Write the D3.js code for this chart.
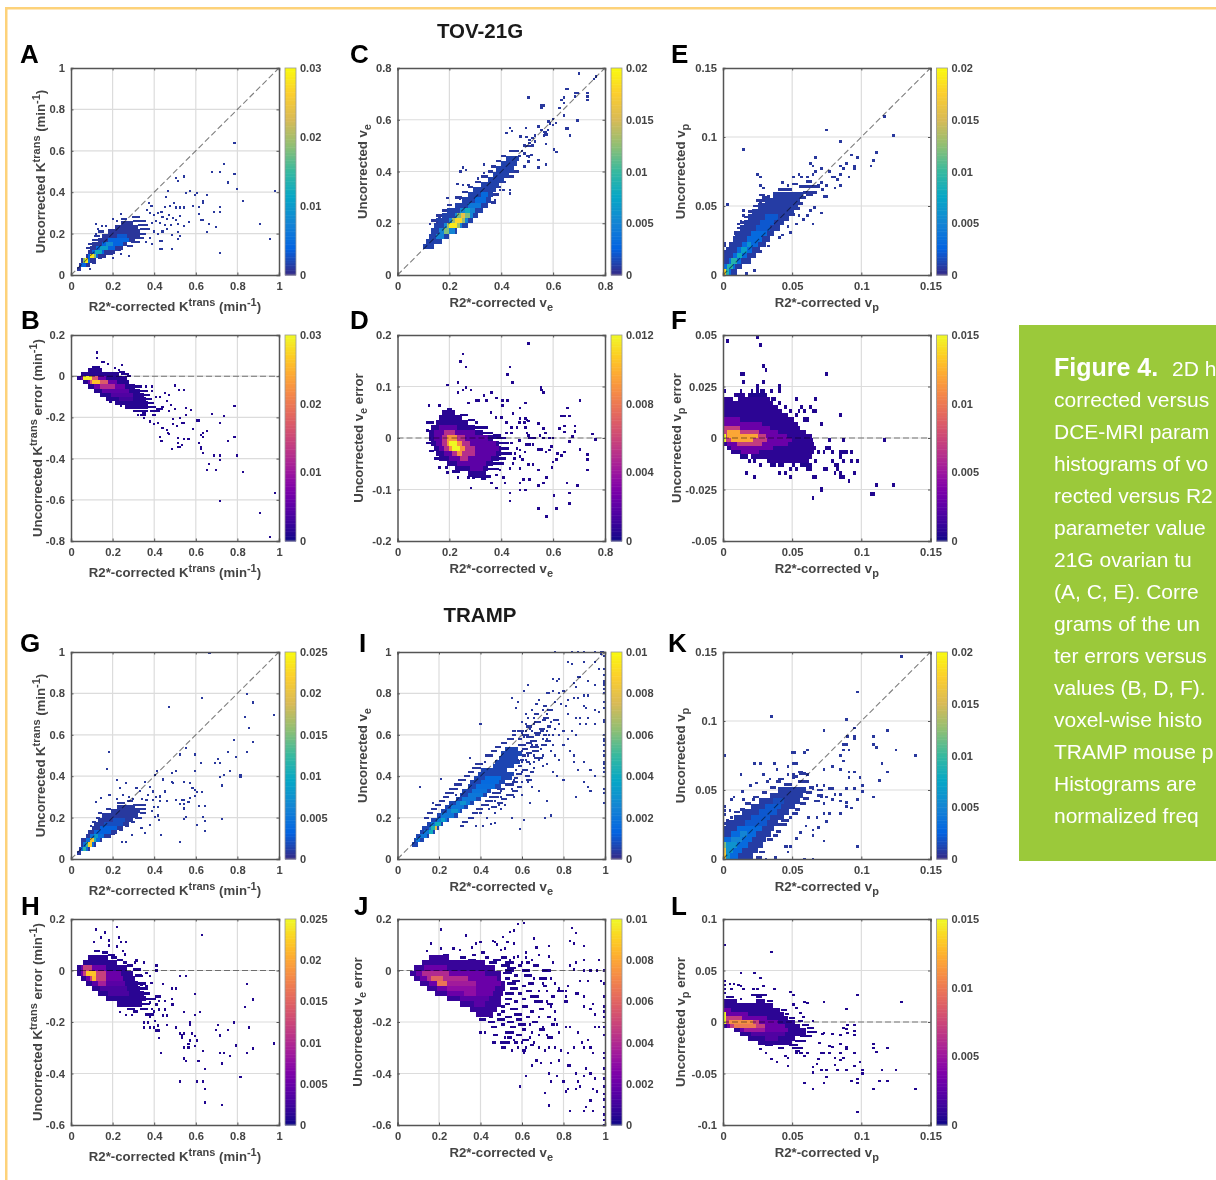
<!DOCTYPE html>
<html>
<head>
<meta charset="utf-8">
<script src="https://cdn.jsdelivr.net/npm/d3@7"></script>
<style>
html, body { margin: 0; padding: 0; background: #fff; overflow: hidden; }
svg { display: block; filter: blur(0.4px); }
text { font-family: "Liberation Sans", sans-serif; }
</style>
</head>
<body>
<svg id="drawing_region" width="1216" height="1180"></svg>
<script>
// rows: [y, x0, x1, value] runs of histogram cells, frags: [y, x0, x1] thin low count runs, dots: [x, y] single low count cells
const kticks = [0, 0.2, 0.4, 0.6, 0.8, 1];
const veticks = [0, 0.2, 0.4, 0.6, 0.8];
const vpticks = [0, 0.05, 0.1, 0.15];
const aRows = [[.03,.03,.05,.0008],[.05,.04,.09,.0008],[.07,.05,.12,.0008],[.09,.07,.17,.0008],[.11,.08,.21,.0008],[.13,.09,.25,.0008],[.15,.10,.27,.0008],[.17,.13,.31,.0008],[.19,.15,.33,.0008],[.21,.18,.33,.0008],[.23,.21,.32,.0008],[.25,.24,.30,.0008],
  [.05,.05,.07,.004],[.07,.06,.09,.004],[.09,.08,.13,.004],[.11,.10,.16,.004],[.13,.12,.21,.004],[.15,.15,.25,.004],[.17,.18,.28,.004],[.19,.22,.27,.003],
  [.07,.06,.08,.018],[.09,.09,.12,.018],[.11,.115,.15,.012],[.13,.14,.18,.010],[.15,.17,.20,.008],[.07,.065,.08,.029],[.09,.09,.11,.028]];
const aFrags = [[.27,.24,.27],[.28,.30,.33],[.26,.30,.36],[.24,.32,.37],[.22,.33,.38],[.20,.33,.36],[.18,.31,.35],[.16,.29,.33],[.14,.27,.30],[.12,.21,.24],[.10,.17,.20],[.08,.13,.15],[.21,.13,.16],[.19,.11,.14],[.17,.10,.13],[.15,.08,.10],[.13,.07,.09],[.06,.10,.12]];
const aDots = [[.786,.637],[.736,.537],[.676,.497],[.717,.497],[.786,.487],[.757,.447],[.798,.416],[.979,.406],[.827,.356],[.506,.468],[.515,.456],[.545,.476],[.466,.406],[.455,.376],[.555,.398],[.574,.406],[.595,.387],[.607,.398],[.655,.387],[.636,.356],[.636,.347],[.717,.327],[.717,.306],[.686,.306],[.617,.327],[.617,.295],[.626,.266],[.636,.266],[.665,.247],[.696,.234],[.655,.206],[.908,.247],[.956,.176],[.717,.105],[.515,.206],[.524,.189],[.515,.176],[.485,.195],[.426,.126],[.435,.126],[.485,.126],[.426,.166],[.435,.166],[.566,.256],[.545,.237],[.515,.247],[.506,.266],[.49,.276],[.524,.285],[.505,.326],[.524,.326],[.545,.326],[.586,.335],[.495,.347],[.474,.335],[.453,.327],[.435,.306],[.377,.347],[.387,.335],[.366,.315],[.38,.30],[.40,.29],[.42,.30],[.44,.28],[.46,.27],[.47,.29],[.43,.25],[.45,.24],[.41,.26],[.39,.25],[.48,.24],[.46,.22],[.44,.21],[.42,.20],[.40,.21],[.38,.18],[.39,.15],[.36,.16],[.12,.245],[.13,.22],[.15,.235],[.17,.235],[.12,.20],[.24,.295],[.22,.26],[.20,.27],[.30,.28],[.28,.09],[.24,.10],[.20,.08],[.09,.03]];
const bRows = [[.03,.08,.15,.0012],[.01,.05,.23,.0012],[-.01,.03,.27,.0012],[-.03,.06,.28,.0012],[-.05,.08,.31,.0012],[-.07,.11,.33,.0012],[-.09,.14,.35,.0012],[-.11,.17,.36,.0012],[-.13,.21,.37,.0012],[-.15,.26,.37,.0012],
  [-.01,.05,.17,.006],[-.03,.08,.22,.006],[-.05,.11,.26,.006],[-.07,.15,.28,.005],[-.09,.19,.30,.004],[-.11,.23,.30,.003],
  [-.01,.06,.13,.017],[-.03,.09,.18,.017],[-.05,.14,.21,.012],[-.01,.06,.10,.029],[-.03,.10,.14,.026]];
const bFrags = [[.045,.10,.14],[.02,.23,.26],[.01,.24,.28],[0,.27,.29],[-.05,.31,.34],[-.07,.33,.37],[-.09,.35,.38],[-.11,.36,.39],[-.13,.37,.40],[-.15,.37,.41],[-.17,.30,.37],[-.17,.38,.43],[-.18,.34,.36],[-.19,.33,.36],[-.19,.39,.41],[-.16,.41,.44]];
const bDots = [[.125,.115],[.125,.09],[.15,.07],[.16,.07],[.18,.06],[.245,.055],[.21,.04],[.23,.03],[.27,.01],[.28,.0],[.36,-.05],[.39,-.05],[.39,-.07],[.41,-.10],[.43,-.10],[.45,-.08],[.47,-.09],[.50,-.045],[.52,-.065],[.545,-.065],[.46,-.12],[.48,-.14],[.50,-.16],[.44,-.15],[.47,-.17],[.49,-.21],[.49,-.23],[.51,-.24],[.46,-.26],[.47,-.28],[.44,-.25],[.42,-.225],[.40,-.23],[.38,-.22],[.43,-.295],[.435,-.315],[.465,-.275],[.515,-.30],[.485,-.355],[.515,-.325],[.525,-.345],[.515,-.345],[.535,-.335],[.545,-.305],[.565,-.305],[.555,-.155],[.575,-.165],[.545,-.225],[.525,-.205],[.555,-.19],[.535,-.225],[.585,-.255],[.605,-.215],[.615,-.215],[.625,-.285],[.635,-.275],[.655,-.265],[.635,-.295],[.615,-.325],[.625,-.345],[.625,-.355],[.635,-.375],[.676,-.185],[.736,-.195],[.786,-.145],[.717,-.225],[.757,-.315],[.786,-.295],[.798,-.385],[.686,-.385],[.717,-.385],[.717,-.405],[.665,-.425],[.655,-.455],[.696,-.455],[.827,-.465],[.717,-.605],[.979,-.565],[.908,-.665],[.956,-.78],[.09,-.05],[.19,-.125],[.24,-.145],[.32,-.19],[.35,-.205]];
const cRows = [[.11,.10,.14,.001],[.13,.11,.17,.001],[.15,.12,.20,.001],[.17,.13,.23,.001],[.19,.14,.27,.001],[.21,.15,.29,.001],[.23,.17,.31,.001],[.25,.19,.33,.001],[.27,.22,.35,.001],[.29,.25,.36,.001],[.31,.27,.37,.001],[.33,.29,.38,.001],[.35,.32,.39,.001],[.37,.35,.41,.001],[.39,.37,.43,.001],[.41,.38,.45,.001],[.43,.40,.46,.001],[.45,.42,.47,.001],
  [.15,.15,.18,.005],[.17,.16,.22,.005],[.19,.18,.25,.005],[.21,.20,.27,.005],[.23,.22,.29,.005],[.25,.24,.30,.005],[.27,.27,.32,.004],[.29,.30,.34,.003],[.31,.32,.35,.003],
  [.17,.18,.20,.012],[.19,.19,.24,.013],[.21,.21,.26,.013],[.23,.23,.28,.012],[.25,.26,.28,.008],[.19,.20,.23,.019],[.21,.22,.25,.018],[.23,.245,.26,.016]];
const cFrags = [[.25,.17,.19],[.23,.15,.17],[.21,.13,.15],[.27,.19,.21],[.30,.22,.25],[.32,.25,.27],[.34,.27,.29],[.36,.30,.32],[.38,.32,.35],[.40,.35,.37],[.42,.36,.38],[.44,.38,.40],[.46,.40,.42],[.48,.43,.47],[.40,.43,.47],[.38,.41,.45],[.36,.39,.42],[.34,.38,.40],[.31,.37,.39],[.28,.36,.38]];
const cDots = [[.70,.778],[.757,.757],[.765,.768],[.504,.686],[.658,.719],[.65,.719],[.684,.703],[.693,.703],[.733,.703],[.733,.69],[.733,.677],[.684,.69],[.642,.686],[.632,.677],[.642,.665],[.556,.654],[.563,.654],[.556,.645],[.624,.645],[.642,.616],[.693,.597],[.6,.603],[.588,.585],[.611,.587],[.658,.567],[.65,.567],[.665,.538],[.433,.568],[.442,.556],[.42,.548],[.495,.568],[.543,.574],[.556,.561],[.565,.552],[.575,.542],[.497,.533],[.475,.535],[.51,.522],[.498,.499],[.51,.499],[.53,.516],[.573,.507],[.603,.486],[.614,.476],[.517,.464],[.507,.458],[.504,.439],[.543,.445],[.573,.426],[.543,.415],[.49,.42],[.253,.415],[.264,.406],[.243,.4],[.334,.426],[.334,.394],[.311,.374],[.273,.348],[.253,.348],[.232,.351],[.193,.297],[.433,.329],[.433,.316],[.376,.29],[.408,.329],[.395,.329],[.163,.226],[.153,.204],[.125,.197],[.241,.293],[.582,.593],[.52,.53],[.53,.54],[.51,.51],[.52,.50],[.57,.55],[.58,.56],[.565,.54],[.60,.58],[.49,.50],[.48,.48],[.47,.46],[.49,.47],[.50,.46]];
const dRows = [[.05,.17,.22,.0006],[.04,.16,.25,.0006],[.03,.15,.27,.0006],[.02,.13,.30,.0006],[.01,.12,.33,.0006],[0,.12,.37,.0006],[-.01,.13,.39,.0006],[-.02,.14,.40,.0006],[-.03,.15,.40,.0006],[-.04,.16,.39,.0006],[-.05,.19,.37,.0006],[-.06,.22,.35,.0006],[-.07,.27,.34,.0006],
  [.02,.16,.23,.002],[.01,.14,.30,.002],[0,.14,.35,.002],[-.01,.15,.38,.002],[-.02,.16,.39,.002],[-.03,.18,.38,.002],[-.04,.20,.36,.002],[-.05,.23,.34,.002],[-.06,.28,.33,.002],
  [.01,.18,.22,.005],[0,.17,.26,.005],[-.01,.17,.28,.005],[-.02,.18,.30,.005],[-.03,.21,.30,.005],[-.04,.24,.27,.005],
  [0,.19,.23,.009],[-.01,.19,.25,.009],[-.02,.20,.26,.009],[-.03,.23,.25,.009],[-.01,.20,.23,.012],[-.02,.21,.24,.012]];
const dFrags = [[.055,.19,.21],[.045,.24,.27],[.035,.27,.30],[.03,.30,.31],[.02,.30,.35],[.01,.33,.37],[.005,.37,.40],[0,.37,.42],[-.01,.39,.43],[-.02,.40,.43],[-.03,.40,.44],[-.04,.39,.42],[-.05,.37,.41],[-.06,.35,.39],[-.065,.21,.24],[-.075,.29,.36],[-.08,.32,.34],[.03,.11,.14],[.015,.11,.12],[-.01,.11,.13],[-.025,.12,.14],[-.04,.14,.16]];
const dDots = [[.504,.183],[.253,.163],[.243,.148],[.264,.138],[.433,.138],[.424,.123],[.444,.108],[.193,.103],[.233,.108],[.264,.098],[.253,.093],[.233,.088],[.283,.093],[.553,.098],[.556,.093],[.563,.088],[.363,.088],[.334,.083],[.382,.078],[.302,.073],[.312,.073],[.343,.073],[.404,.073],[.424,.073],[.703,.073],[.494,.068],[.274,.068],[.404,.063],[.473,.058],[.655,.058],[.122,.063],[.163,.063],[.446,.048],[.633,.043],[.643,.043],[.662,.043],[.473,.038],[.494,.038],[.504,.033],[.543,.028],[.563,.018],[.624,.018],[.643,.023],[.684,.023],[.684,.013],[.643,.012],[.751,.008],[.763,-.003],[.494,.02],[.504,.005],[.6,0],[.585,0],[.563,0],[.675,.003],[.662,-.007],[.703,-.022],[.643,-.027],[.733,-.032],[.733,-.042],[.733,-.062],[.633,-.034],[.616,-.03],[.613,-.042],[.596,-.057],[.6,-.047],[.572,-.027],[.543,-.022],[.523,-.013],[.51,-.013],[.497,-.013],[.556,-.022],[.585,-.023],[.594,-.016],[.453,-.03],[.472,-.023],[.472,-.036],[.491,-.027],[.482,-.042],[.504,-.052],[.523,-.052],[.543,-.062],[.575,-.077],[.562,-.087],[.543,-.092],[.653,-.087],[.693,-.092],[.663,-.107],[.663,-.127],[.603,-.112],[.613,-.137],[.543,-.137],[.574,-.152],[.433,-.107],[.433,-.122],[.473,-.101],[.494,-.101],[.382,-.097],[.283,-.097],[.414,-.087],[.363,-.087],[.472,-.087],[.485,-.081],[.51,-.081],[.408,-.077],[.382,-.072],[.395,-.062],[.433,-.059],[.446,-.049],[.472,-.059],[.163,-.057],[.193,-.067],[.233,-.077],[.273,-.077],[.292,-.077],[.189,-.057],[.36,.05],[.38,.04],[.40,.04],[.42,.03],[.44,.02],[.46,.02],[.42,.01],[.44,.01],[.47,.03],[.49,.03],[.50,.035],[.50,.01],[.51,0],[.52,0],[.53,0],[.55,.005],[.57,.01],[.44,-.01],[.46,-.02],[.45,-.04],[.47,-.005]];
const eRows = [[.002,0,.01,.0008],[.006,0,.014,.0008],[.010,0,.02,.0008],[.014,0,.024,.0008],[.018,.002,.027,.0008],[.022,.004,.031,.0008],[.026,.007,.034,.0008],[.030,.009,.037,.0008],[.034,.012,.041,.0008],[.038,.015,.044,.0008],[.042,.018,.048,.0008],[.046,.021,.051,.0008],[.050,.025,.054,.0008],[.054,.030,.056,.0008],[.058,.036,.058,.0008],
  [.002,0,.006,.003],[.006,.001,.009,.003],[.010,.004,.013,.003],[.014,.007,.017,.003],[.018,.010,.021,.003],[.022,.014,.025,.003],[.026,.017,.028,.003],[.030,.02,.032,.003],[.034,.024,.034,.002],[.038,.027,.037,.002],[.042,.03,.04,.002],
  [.002,0,.004,.009],[.006,.003,.007,.009],[.010,.006,.010,.009],[.014,.010,.014,.008],[.018,.013,.017,.007],[.022,.017,.020,.006],[.002,0,.002,.018]];
const eFrags = [[.023,0,.002],[.021,0,.002],[.017,0,.002],[.062,.040,.05],[.064,.055,.07],[.060,.058,.068],[.058,.06,.065],[.066,.05,.054],[.068,.06,.064],[.056,.056,.06],[.052,.054,.058],[.048,.051,.056],[.044,.048,.052],[.040,.044,.048],[.058,.026,.03],[.056,.028,.032],[.054,.024,.03],[.050,.022,.025],[.046,.018,.021],[.042,.015,.018],[.038,.012,.015],[.034,.010,.012],[.030,.008,.009]];
const eDots = [[.075,.105],[.085,.097],[.117,.115],[.123,.101],[.015,.091],[.003,.051],[.111,.089],[.109,.083],[.107,.079],[.097,.085],[.093,.087],[.067,.085],[.063,.081],[.065,.079],[.025,.073],[.027,.071],[.065,.037],[.071,.045],[.049,.031],[.023,.003],[.017,.001],[.095,.079],[.095,.077],[.091,.071],[.089,.081],[.085,.079],[.087,.077],[.085,.073],[.077,.075],[.079,.071],[.081,.071],[.083,.069],[.081,.063],[.085,.065],[.075,.057],[.073,.057],[.072,.062],[.075,.065],[.071,.067],[.069,.065],[.055,.073],[.057,.071],[.061,.071],[.065,.073],[.067,.075],[.071,.077],[.051,.071],[.047,.065],[.043,.067],[.027,.065],[.029,.063],[.033,.057],[.027,.052],[.015,.047],[.015,.043],[.013,.039],[.011,.037],[.009,.031],[.005,.023],[.001,.021],[.063,.047],[.066,.049],[.061,.043],[.058,.04],[.055,.043],[.053,.037],[.047,.035],[.043,.029],[.041,.027],[.033,.021],[.027,.017]];
const fRows = [[.021,.008,.016,.0008],[.019,0,.007,.0008],[.019,.011,.034,.0008],[.017,0,.036,.0008],[.015,0,.040,.0008],[.013,0,.043,.0008],[.011,0,.047,.0008],[.009,0,.051,.0008],[.007,0,.054,.0008],[.005,0,.056,.0008],[.003,0,.060,.0008],[.001,0,.064,.0008],[-.001,0,.065,.0008],[-.003,.001,.066,.0008],[-.005,.003,.067,.0008],[-.007,.006,.066,.0008],[-.009,.02,.064,.0008],[-.011,.034,.062,.0008],
  [.009,0,.012,.003],[.007,0,.028,.003],[.005,0,.034,.003],[.003,0,.04,.003],[.001,0,.046,.003],[-.001,0,.05,.003],[-.003,.003,.047,.003],[-.005,.006,.036,.003],[-.007,.013,.026,.003],
  [.005,0,.012,.007],[.003,0,.026,.007],[.001,0,.031,.007],[-.001,.002,.032,.007],[-.003,.010,.028,.007],[.003,.003,.012,.012],[.001,.003,.025,.012],[-.001,.006,.022,.012],[.001,0,.002,.015],[-.001,0,.002,.015]];
const fFrags = [[.023,.024,.026],[.023,.012,.014],[.023,.027,.03],[.021,.019,.032],[.019,.035,.038],[.017,.040,.042],[.015,.044,.046],[.013,.048,.05],[.011,.052,.054],[-.009,.012,.018],[-.011,.018,.02],[-.011,.022,.024],[-.013,.034,.038],[-.013,.04,.044],[-.013,.05,.052],[-.013,.056,.064],[-.015,.06,.064]];
const fDots = [[.003,.047],[.025,.049],[.027,.045],[.029,.035],[.031,.033],[.013,.031],[.015,.031],[.075,.031],[.015,.027],[.029,.027],[.041,.025],[.001,.023],[.085,.011],[.117,-.001],[.087,-.001],[.077,-.001],[.067,.019],[.063,.015],[.053,.019],[.071,.007],[.067,.013],[.065,.013],[.093,-.007],[.097,-.011],[.093,-.011],[.095,-.017],[.091,-.021],[.123,-.023],[.111,-.023],[.107,-.027],[.109,-.027],[.071,-.025],[.065,-.029],[.017,-.017],[.023,-.019],[.049,-.019],[.041,-.017],[.045,-.017],[.065,-.019],[.067,-.019],[.087,-.019],[.085,-.019],[.085,-.017],[.081,-.017],[.081,-.013],[.079,-.007],[.075,-.005],[.077,-.005],[.073,-.007],[.085,-.007],[.087,-.007],[.085,-.009],[.089,-.007],[.073,-.015],[.075,-.015],[.067,-.011],[.069,-.007],[.059,.013],[.057,.015],[.055,.013],[.061,.009],[.059,.009],[.053,-.015],[.049,-.015],[.043,-.013],[.035,-.013],[.027,-.013],[.033,-.011],[.079,-.011],[.083,-.013],[.087,-.011],[.083,-.015],[.041,.023],[.035,.023],[.029,.023],[.025,.025],[.021,.023],[.011,.021],[.013,.023],[.019,.021]];
const gRows = [[.03,.03,.05,.0008],[.05,.04,.09,.0008],[.07,.05,.12,.0008],[.09,.05,.15,.0008],[.11,.07,.19,.0008],[.13,.08,.22,.0008],[.15,.10,.25,.0008],[.17,.11,.28,.0008],[.19,.13,.30,.0008],[.21,.15,.32,.0008],[.23,.19,.33,.0008],[.25,.22,.31,.0008],
  [.05,.05,.08,.004],[.07,.06,.11,.004],[.09,.07,.14,.004],[.11,.09,.16,.004],[.13,.11,.19,.003],[.15,.14,.22,.003],[.17,.16,.25,.002],[.19,.2,.26,.002],
  [.05,.06,.07,.012],[.07,.07,.10,.012],[.09,.09,.12,.011],[.11,.11,.13,.008],[.07,.08,.10,.022],[.09,.09,.11,.021]];
const gFrags = [[.27,.22,.26],[.28,.27,.30],[.26,.30,.36],[.24,.31,.36],[.22,.33,.36],[.20,.31,.34],[.18,.29,.31],[.16,.26,.28],[.14,.23,.25],[.12,.19,.21],[.22,.13,.15],[.20,.12,.14],[.24,.17,.19],[.18,.10,.12],[.16,.09,.10]];
const gDots = [[.666,.997],[.632,.776],[.473,.735],[.845,.797],[.874,.756],[.835,.685],[.976,.695],[.855,.635],[.785,.576],[.874,.565],[.755,.515],[.845,.515],[.182,.515],[.173,.434],[.795,.495],[.705,.485],[.715,.465],[.694,.465],[.626,.465],[.594,.505],[.553,.535],[.524,.505],[.765,.424],[.734,.405],[.715,.394],[.815,.405],[.815,.394],[.724,.355],[.594,.424],[.503,.424],[.484,.415],[.415,.424],[.403,.405],[.444,.384],[.484,.374],[.492,.365],[.544,.374],[.573,.365],[.584,.345],[.594,.334],[.605,.324],[.632,.324],[.594,.305],[.573,.294],[.565,.274],[.544,.284],[.534,.284],[.503,.284],[.526,.264],[.544,.264],[.544,.244],[.615,.255],[.644,.255],[.634,.205],[.644,.185],[.553,.205],[.544,.195],[.724,.195],[.605,.165],[.644,.134],[.524,.084],[.432,.115],[.355,.124],[.292,.115],[.265,.084],[.244,.084],[.221,.382],[.263,.366],[.234,.345],[.185,.31],[.145,.294],[.121,.276],[.355,.374],[.315,.342],[.379,.35],[.395,.326],[.427,.302],[.452,.326],[.419,.253],[.403,.205],[.424,.189],[.379,.165],[.339,.148],[.363,.285],[.395,.285],[.25,.31],[.22,.29],[.28,.30],[.33,.33],[.30,.29],[.34,.29],[.37,.31],[.41,.30],[.43,.28],[.46,.28],[.40,.25],[.42,.21],[.39,.23]];
const hRows = [[.05,.08,.18,.0012],[.03,.06,.22,.0012],[.01,.03,.27,.0012],[-.01,.03,.30,.0012],[-.03,.05,.31,.0012],[-.05,.07,.32,.0012],[-.07,.10,.33,.0012],[-.09,.13,.35,.0012],[-.11,.17,.36,.0012],[-.13,.22,.34,.0012],
  [.01,.05,.17,.005],[-.01,.05,.24,.005],[-.03,.07,.25,.005],[-.05,.10,.26,.004],[-.07,.14,.27,.003],[-.09,.18,.28,.003],
  [.01,.06,.10,.012],[-.01,.06,.17,.012],[-.03,.09,.17,.012],[-.05,.13,.17,.009],[-.01,.07,.12,.022],[-.03,.10,.12,.021]];
const hFrags = [[.075,.11,.14],[.07,.15,.18],[.06,.18,.21],[.05,.19,.22],[.04,.22,.25],[.02,.27,.30],[.03,.25,.27],[.005,.30,.33],[-.02,.31,.34],[-.05,.32,.36],[-.07,.33,.37],[-.09,.35,.38],[-.11,.36,.41],[-.13,.34,.38],[-.15,.27,.31],[-.15,.33,.37],[-.16,.30,.32],[-.17,.36,.40],[-.10,.41,.43]];
const hDots = [[.121,.159],[.221,.169],[.632,.138],[.163,.148],[.145,.128],[.184,.117],[.232,.128],[.242,.11],[.263,.11],[.111,.11],[.182,.097],[.223,.094],[.25,.075],[.258,.062],[.315,.039],[.352,.03],[.411,.019],[.411,0],[.442,-.052],[.484,-.071],[.503,-.071],[.524,-.022],[.553,-.022],[.594,-.092],[.845,-.052],[.874,-.112],[.835,-.141],[.621,-.161],[.544,-.161],[.594,-.172],[.785,-.203],[.705,-.212],[.573,-.203],[.573,-.212],[.855,-.222],[.695,-.231],[.753,-.231],[.715,-.252],[.503,-.222],[.463,-.212],[.532,-.252],[.524,-.244],[.544,-.244],[.532,-.261],[.582,-.244],[.594,-.254],[.605,-.272],[.573,-.272],[.565,-.285],[.544,-.3],[.565,-.3],[.594,-.293],[.634,-.312],[.715,-.321],[.734,-.321],[.765,-.332],[.795,-.292],[.874,-.302],[.845,-.321],[.976,-.283],[.432,-.321],[.544,-.341],[.553,-.351],[.613,-.352],[.724,-.361],[.644,-.383],[.815,-.413],[.524,-.432],[.605,-.432],[.634,-.432],[.644,-.461],[.644,-.512],[.724,-.523],[.424,-.262],[.411,-.232],[.424,-.232],[.42,-.213],[.4,-.222],[.379,-.222],[.352,-.222],[.352,-.203],[.37,-.203],[.403,-.196],[.444,-.174],[.46,-.174],[.424,-.151],[.452,-.151],[.411,-.132],[.484,-.132],[.492,-.132],[.484,-.11],[.452,-.119],[.424,-.119],[.379,-.125],[.263,-.172],[.292,-.172],[.237,-.161],[.339,-.022],[.363,-.009],[.33,.004],[.306,.03],[.379,-.022],[.387,-.048],[.363,-.06],[.339,-.054],[.41,-.10],[.43,-.10],[.40,-.16],[.38,-.18],[.39,-.15],[.36,-.17]];
const iRows = [[.07,.07,.10,.0006],[.09,.08,.13,.0006],[.11,.09,.15,.0006],[.13,.11,.18,.0006],[.15,.12,.20,.0006],[.17,.14,.22,.0006],[.19,.16,.25,.0006],[.21,.19,.29,.0006],[.23,.21,.31,.0006],[.25,.23,.34,.0006],[.27,.25,.37,.0006],[.29,.28,.40,.0006],[.31,.30,.43,.0006],[.33,.31,.45,.0006],[.35,.34,.50,.0006],[.37,.35,.52,.0006],[.39,.37,.55,.0006],[.41,.39,.56,.0006],[.43,.40,.53,.0006],[.45,.46,.56,.0006],[.47,.47,.59,.0006],[.49,.49,.58,.0006],[.51,.50,.60,.0006],[.53,.52,.58,.0006],
  [.09,.09,.11,.002],[.11,.11,.14,.002],[.13,.13,.17,.002],[.15,.15,.19,.002],[.17,.16,.21,.002],[.19,.19,.24,.002],[.21,.21,.27,.002],[.23,.24,.30,.002],[.25,.26,.32,.002],[.27,.28,.35,.002],[.29,.31,.38,.002],[.31,.34,.41,.002],[.33,.36,.43,.0018],[.35,.38,.47,.0016],[.37,.40,.49,.0015],[.39,.42,.50,.0015],
  [.13,.15,.17,.004],[.15,.16,.19,.0045],[.17,.18,.21,.004],[.19,.21,.23,.0035],[.23,.26,.29,.003],[.27,.30,.33,.003],[.15,.18,.19,.008]];
const iFrags = [[.60,.60,.63],[.62,.58,.61],[.64,.62,.65],[.58,.58,.60],[.59,.62,.66],[.61,.66,.69],[.63,.68,.71],[.60,.70,.72],[.57,.71,.74],[.55,.69,.72],[.53,.60,.63],[.52,.65,.68],[.50,.60,.62],[.49,.66,.70],[.47,.62,.64],[.45,.58,.60],[.43,.60,.63],[.41,.57,.60],[.39,.56,.58],[.37,.55,.58],[.36,.52,.56],[.34,.48,.52],[.32,.46,.50],[.30,.44,.49],[.28,.42,.46],[.26,.40,.44],[.24,.38,.41],[.22,.36,.39],[.20,.34,.37],[.18,.31,.34],[.16,.30,.32],[.25,.45,.48],[.27,.48,.51],[.29,.50,.53],[.31,.53,.56],[.33,.55,.58],[.35,.58,.60],[.40,.62,.64],[.42,.64,.66],[.38,.62,.65],[.66,.66,.69],[.68,.70,.73],[.70,.66,.68],[.64,.72,.74],[.67,.75,.78],[.72,.72,.75],[.74,.70,.72],[.50,.42,.46],[.52,.45,.48],[.54,.47,.50],[.56,.50,.53],[.58,.53,.56],[.60,.55,.57],[.62,.55,.57],[.46,.38,.41],[.44,.36,.40],[.42,.34,.37],[.40,.32,.35],[.38,.29,.33],[.36,.27,.31],[.34,.25,.29],[.32,.23,.27],[.30,.22,.25],[.28,.20,.23],[.26,.18,.21],[.24,.16,.19],[.22,.14,.17],[.20,.13,.15],[.55,.58,.62],[.56,.62,.65],[.54,.64,.68],[.57,.64,.67],[.51,.62,.65],[.48,.59,.61]];
const iDots = [[.76,1],[.84,1],[.87,1],[.90,1],[.95,1],[.98,.99],[.99,1],[.98,1],[.995,.27],[.995,.32],[.995,.34],[.995,.42],[.995,.44],[.995,.46],[.995,.47],[.995,.50],[.995,.52],[.995,.55],[.995,.57],[.995,.58],[.995,.60],[.995,.66],[.995,.67],[.995,.73],[.995,.76],[.995,.80],[.995,.82],[.995,.84],[.995,.85],[.995,.86],[.995,.89],[.995,.92],[.995,.98],[.82,.95],[.84,.94],[.90,.95],[.95,.95],[.97,.92],[.87,.88],[.88,.88],[.78,.87],[.92,.86],[.95,.84],[.85,.85],[.86,.83],[.75,.87],[.77,.86],[.63,.84],[.61,.81],[.55,.78],[.58,.76],[.57,.73],[.80,.81],[.78,.80],[.72,.80],[.73,.80],[.75,.81],[.85,.78],[.87,.78],[.82,.77],[.76,.76],[.90,.79],[.92,.79],[.68,.77],[.67,.75],[.79,.75],[.81,.74],[.90,.74],[.91,.73],[.95,.72],[.97,.71],[.65,.72],[.70,.72],[.72,.70],[.82,.70],[.86,.68],[.88,.68],[.92,.68],[.95,.65],[.62,.70],[.63,.68],[.66,.68],[.70,.67],[.74,.66],[.78,.65],[.80,.62],[.88,.65],[.91,.65],[.84,.62],[.86,.60],[.60,.66],[.62,.65],[.65,.62],[.68,.60],[.70,.62],[.72,.58],[.75,.55],[.80,.55],[.83,.52],[.85,.50],[.90,.47],[.93,.43],[.95,.40],[.92,.35],[.93,.33],[.90,.37],[.77,.40],[.80,.38],[.85,.47],[.87,.43],[.86,.30],[.75,.42],[.70,.45],[.66,.47],[.63,.50],[.60,.52],[.60,.42],[.62,.40],[.65,.35],[.68,.33],[.72,.28],[.64,.27],[.71,.20],[.74,.21],[.59,.145],[.55,.20],[.61,.19],[.11,.35],[.21,.385],[.33,.40],[.40,.65],[.28,.31],[.17,.27],[.18,.24],[.38,.46],[.42,.47],[.35,.49],[.45,.17],[.47,.175],[.41,.16],[.38,.16],[.43,.20],[.47,.22],[.50,.24],[.52,.26],[.56,.30],[.60,.31],[.55,.34],[.53,.31],[.62,.62],[.64,.63],[.66,.65],[.67,.60],[.69,.62],[.70,.58],[.72,.62],[.73,.60],[.75,.60],[.63,.56],[.65,.55],[.67,.55],[.69,.53],[.71,.55],[.74,.52],[.76,.50],[.78,.48],[.70,.50],[.66,.50],[.68,.48],[.72,.46],[.64,.46],[.66,.44],[.60,.47],[.62,.48],[.58,.48],[.57,.43],[.60,.37],[.63,.37],[.58,.35],[.56,.38],[.61,.59],[.63,.60],[.60,.61],[.58,.62],[.56,.60],[.65,.59],[.71,.67],[.73,.64],[.76,.63],[.78,.60],[.82,.58],[.50,.30],[.47,.28],[.49,.26],[.44,.24],[.40,.22],[.46,.32],[.50,.33]];
const jRows = [[.05,.15,.25,.0008],[.03,.12,.42,.0008],[.01,.08,.47,.0008],[-.01,.06,.50,.0008],[-.03,.08,.50,.0008],[-.05,.11,.52,.0008],[-.07,.14,.52,.0008],[-.09,.18,.51,.0008],[-.11,.24,.50,.0008],[-.13,.30,.50,.0008],[-.15,.35,.48,.0008],[-.17,.38,.46,.0008],
  [.01,.13,.24,.002],[-.01,.09,.42,.002],[-.03,.11,.48,.002],[-.05,.15,.50,.002],[-.07,.19,.47,.002],[-.09,.24,.46,.002],[-.11,.30,.44,.0016],[-.13,.37,.42,.0016],
  [-.01,.12,.25,.004],[-.03,.14,.34,.004],[-.05,.19,.38,.0035],[-.07,.24,.38,.003],[-.09,.32,.38,.003],[-.03,.16,.22,.006],[-.05,.19,.24,.0065]];
const jFrags = [[.02,.50,.54],[.02,.58,.60],[.01,.53,.57],[0,.52,.56],[0,.60,.64],[-.01,.51,.55],[-.02,.56,.58],[-.02,.61,.65],[-.03,.52,.54],[-.04,.55,.59],[-.05,.53,.57],[-.05,.63,.66],[-.06,.60,.62],[-.07,.54,.58],[-.08,.62,.65],[-.09,.52,.56],[-.09,.58,.60],[-.10,.64,.68],[-.11,.52,.55],[-.11,.60,.62],[-.12,.56,.58],[-.12,.66,.70],[-.13,.52,.54],[-.14,.60,.63],[-.14,.50,.52],[-.15,.54,.58],[-.15,.68,.70],[-.16,.64,.66],[-.16,.50,.52],[-.17,.48,.50],[-.17,.56,.60],[-.18,.52,.55],[-.18,.62,.64],[-.19,.48,.52],[-.19,.57,.60],[-.20,.44,.47],[-.20,.53,.56],[-.20,.65,.67],[-.21,.50,.52],[-.21,.58,.62],[-.22,.45,.48],[-.22,.54,.57],[-.23,.60,.62],[-.24,.52,.56],[-.25,.57,.60],[-.25,.46,.48],[-.26,.53,.55],[-.27,.60,.63],[-.28,.50,.54],[-.28,.56,.58],[-.29,.64,.66],[-.30,.50,.52],[-.31,.60,.62],[-.18,.44,.46],[-.19,.40,.42],[.03,.44,.48],[.04,.34,.38],[.05,.30,.33],[.06,.22,.25],[.04,.46,.50],[.06,.36,.38],[.07,.40,.42],[.05,.42,.44],[.03,.52,.56],[.05,.50,.53],[-.23,.68,.71],[-.26,.72,.75],[-.21,.74,.76],[-.18,.72,.74],[-.13,.72,.75],[-.10,.74,.76],[-.06,.70,.72],[-.03,.68,.72],[0,.70,.74],[.02,.66,.68],[.03,.62,.64],[-.08,.77,.80],[-.12,.80,.82]];
const jDots = [[.21,.16],[.33,.135],[.16,.105],[.14,.075],[.21,.085],[.27,.085],[.30,.08],[.36,.09],[.38,.105],[.40,.11],[.46,.115],[.47,.11],[.48,.10],[.50,.08],[.52,.085],[.53,.11],[.56,.155],[.58,.18],[.61,.185],[.54,.15],[.51,.13],[.56,.105],[.66,.125],[.84,.165],[.86,.145],[.83,.115],[.85,.105],[.90,.095],[.73,.095],[.67,.09],[.62,.07],[.68,.06],[.73,.055],[.62,.05],[.65,.04],[.58,.055],[.56,.05],[.54,.04],[.75,.03],[.83,.02],[.86,.03],[.90,.04],[.97,.04],[.85,.005],[.90,0],[.93,0],[.96,0],[.98,-.04],[.92,-.04],[.88,-.04],[.82,-.06],[.81,-.08],[.81,-.1],[.86,-.09],[.87,-.09],[.90,-.10],[.90,-.14],[.93,-.15],[.94,-.13],[.95,-.17],[.72,-.08],[.78,-.07],[.74,-.14],[.76,-.16],[.76,-.19],[.77,-.21],[.78,-.24],[.81,-.22],[.83,-.22],[.87,-.24],[.89,-.28],[.92,-.27],[.95,-.22],[.97,-.22],[.90,-.30],[.93,-.30],[.94,-.32],[.70,-.22],[.72,-.25],[.68,-.25],[.65,-.24],[.63,-.27],[.60,-.28],[.62,-.30],[.58,-.30],[.55,-.31],[.52,-.30],[.50,-.28],[.47,-.28],[.46,-.28],[.42,-.24],[.40,-.24],[.68,-.30],[.71,-.31],[.73,-.30],[.76,-.30],[.79,-.31],[.82,-.32],[.85,-.30],[.67,-.35],[.69,-.36],[.74,-.36],[.78,-.35],[.82,-.37],[.83,-.37],[.86,-.40],[.91,-.38],[.87,-.43],[.90,-.41],[.93,-.40],[.95,-.42],[.77,-.41],[.73,-.40],[.74,-.43],[.80,-.43],[.82,-.46],[.86,-.46],[.88,-.45],[.94,-.46],[.96,-.47],[.71,-.475],[.59,-.45],[.62,-.41],[.65,-.37],[.61,-.32],[.66,-.28],[.83,-.545],[.90,-.545],[.94,-.545],[.73,-.525],[.93,-.505],[.91,-.53],[.81,-.47],[.995,-.6],[.995,-.58],[.995,-.56],[.995,-.53],[.995,-.50],[.995,-.48],[.995,-.45],[.995,-.42],[.995,-.38],[.995,-.34],[.995,-.32],[.995,-.25],[.995,-.22],[.995,-.18],[.995,-.16],[.995,-.14],[.995,-.1],[.995,-.05],[.995,0],[.63,.03],[.60,.03],[.66,.02],[.70,.0],[.66,-.03],[.70,-.05],[.68,-.08],[.72,-.12],[.70,-.15],[.68,-.18],[.67,-.20],[.64,-.21],[.74,-.03],[.76,-.05],[.64,-.26],[.56,-.27],[.58,-.25],[.52,-.26],[.54,-.24],[.48,-.25],[.46,-.22],[.44,-.20],[.42,-.19],[.40,-.19]];
const kRows = [[.002,0,.022,.0008],[.006,0,.025,.0008],[.010,0,.029,.0008],[.014,0,.031,.0008],[.018,0,.035,.0008],[.022,0,.037,.0008],[.026,.002,.040,.0008],[.030,.008,.044,.0008],[.034,.014,.048,.0008],[.038,.020,.052,.0008],[.042,.026,.056,.0008],[.046,.034,.058,.0008],[.050,.040,.060,.0008],
  [.002,0,.011,.003],[.006,0,.014,.003],[.010,0,.018,.003],[.014,0,.021,.003],[.018,.006,.024,.003],[.022,.01,.028,.003],[.026,.016,.032,.002],[.030,.02,.034,.002],[.034,.026,.039,.002],[.038,.03,.042,.002],[.042,.036,.044,.0015],
  [.002,0,.005,.006],[.006,0,.007,.006],[.010,.002,.01,.006],[.014,.006,.014,.005],[.018,.012,.017,.005],[.002,0,.002,.017],[.006,0,.002,.016],[.010,0,.002,.012]];
const kFrags = [[.054,.044,.05],[.056,.054,.062],[.052,.062,.066],[.048,.06,.064],[.044,.058,.062],[.04,.056,.06],[.036,.052,.056],[.042,.066,.07],[.05,.068,.072],[.046,.068,.072],[.058,.04,.044],[.06,.05,.054],[.062,.055,.06],[.033,.05,.054],[.03,.048,.05],[.028,.042,.048],[.025,.04,.046],[.02,.038,.042],[.017,.036,.04],[.014,.032,.036],[.03,.005,.007],[.034,.008,.012],[.036,.012,.016],[.04,.016,.02],[.045,.022,.026],[.048,.028,.032],[.052,.034,.038],[.056,.038,.042],[.001,.024,.028],[.005,.026,.03],[.026,0,.002]];
const kDots = [[.129,.147],[.097,.121],[.035,.103],[.089,.101],[.095,.095],[.073,.093],[.119,.093],[.09,.089],[.095,.089],[.095,.087],[.109,.089],[.109,.083],[.111,.081],[.125,.079],[.139,.075],[.001,.075],[.115,.069],[.119,.063],[.113,.057],[.109,.045],[.097,.009],[.073,.013],[.047,.005],[.045,.009],[.046,.009],[.061,.079],[.059,.077],[.05,.077],[.052,.077],[.023,.069],[.027,.069],[.037,.069],[.013,.061],[.029,.061],[.039,.065],[.047,.067],[.051,.069],[.053,.069],[.051,.061],[.051,.059],[.055,.063],[.057,.063],[.047,.061],[.061,.061],[.073,.065],[.079,.067],[.085,.065],[.087,.071],[.085,.075],[.087,.079],[.091,.079],[.089,.083],[.087,.083],[.091,.063],[.091,.059],[.095,.063],[.099,.059],[.101,.053],[.101,.049],[.095,.051],[.089,.051],[.085,.047],[.081,.047],[.079,.051],[.077,.051],[.073,.053],[.068,.053],[.065,.051],[.071,.045],[.075,.045],[.079,.043],[.085,.042],[.089,.041],[.097,.043],[.093,.037],[.089,.038],[.085,.033],[.077,.033],[.073,.04],[.073,.033],[.075,.027],[.068,.03],[.069,.023],[.065,.021],[.065,.017],[.059,0],[.065,0],[.038,.001],[.031,0],[.022,.043],[.015,.043],[.006,.043],[.008,.045],[.014,.049],[.024,.055],[.02,.053],[.032,.056],[.034,.058],[.001,.035],[.001,.038],[.001,.032],[.005,.035],[.003,.028],[.049,.009],[.053,.015],[.056,.019],[.06,.024],[.062,.03]];
const lRows = [[.020,0,.010,.0008],[.020,.024,.030,.0008],[.016,0,.036,.0008],[.012,0,.041,.0008],[.008,0,.044,.0008],[.004,0,.047,.0008],[0,0,.052,.0008],[-.004,.001,.056,.0008],[-.008,.008,.060,.0008],[-.012,.012,.060,.0008],[-.016,.018,.052,.0008],[-.020,.025,.050,.0008],
  [.012,0,.006,.003],[.008,0,.018,.003],[.004,0,.032,.003],[0,0,.04,.003],[-.004,.003,.045,.003],[-.008,.012,.047,.003],[-.012,.02,.045,.002],[-.016,.03,.04,.002],
  [.004,0,.014,.007],[0,.002,.026,.007],[-.004,.005,.03,.007],[-.008,.015,.03,.005],[0,.004,.022,.011],[-.004,.008,.024,.010],[.008,0,.002,.015],[.004,0,.002,.015],[0,0,.002,.015]];
const lFrags = [[.026,.02,.032],[.024,.002,.008],[.024,.024,.028],[.022,.012,.014],[.02,.032,.036],[.012,.042,.046],[.008,.045,.048],[.004,.048,.052],[.001,.054,.058],[-.003,.057,.062],[-.006,.061,.066],[-.01,.061,.068],[-.014,.056,.064],[-.018,.052,.06],[-.022,.048,.054],[-.022,.03,.036],[-.025,.05,.058],[-.028,.052,.056],[-.025,.04,.044],[-.03,.055,.058]];
const lDots = [[.001,.075],[.035,.068],[.013,.048],[.023,.048],[.027,.043],[.097,.026],[.129,.019],[.089,.013],[.073,.019],[.059,.019],[.061,.018],[.049,.029],[.051,.026],[.037,.032],[.029,.035],[.025,.032],[.022,.032],[.015,.032],[.013,.035],[.011,.036],[.005,.037],[.006,.032],[.008,.037],[.051,.017],[.053,.014],[.056,.009],[.058,.005],[.065,.001],[.095,-.003],[.09,-.003],[.087,-.006],[.089,-.007],[.095,-.009],[.095,-.013],[.09,-.011],[.085,-.013],[.073,-.011],[.079,-.012],[.089,-.024],[.085,-.021],[.079,-.024],[.077,-.023],[.073,-.03],[.095,-.03],[.089,-.026],[.085,-.03],[.081,-.035],[.085,-.037],[.087,-.035],[.099,-.039],[.101,-.047],[.095,-.043],[.089,-.047],[.083,-.047],[.101,-.05],[.097,-.055],[.097,-.059],[.093,-.057],[.073,-.059],[.075,-.053],[.075,-.047],[.071,-.047],[.065,-.044],[.065,-.049],[.068,-.041],[.059,-.059],[.065,-.065],[.097,-.087],[.109,-.065],[.139,-.065],[.113,-.057],[.119,-.057],[.115,-.047],[.125,-.047],[.109,-.021],[.109,-.025],[.111,-.029],[.119,-.025],[.039,-.039],[.035,-.036],[.031,-.03],[.027,-.026],[.047,-.043],[.047,-.035],[.045,-.033],[.059,-.033],[.061,-.03],[.053,-.03],[.001,.04],[.001,.036],[.001,.032],[.001,.028],[.069,-.036],[.071,-.03],[.077,-.03],[.081,-.042],[.07,-.02],[.072,-.012]];

const parula_colors = ['#352a87', '#0363e1', '#1485d4', '#06a7c6', '#38b99e', '#92bf73', '#d9ba56', '#fcce2e', '#f9fb0e'];
const parula = d3.piecewise(d3.interpolateRgb, parula_colors);
const plasma = d3.interpolatePlasma;

const columns = [{ left: 71, right: 279 }, { left: 397.5, right: 605 }, { left: 723, right: 930.5 }];
const lines = [
  { top: 68, bottom: 275, letterY: 63 }, { top: 335, bottom: 541, letterY: 329 },
  { top: 652, bottom: 859, letterY: 652 }, { top: 919, bottom: 1125, letterY: 915 }
];
const kx = ['R2*-corrected K', ['trans', 'sup'], ' (min', ['-1', 'sup'], ')'];
const vex = ['R2*-corrected v', ['e', 'sub']];
const vpx = ['R2*-corrected v', ['p', 'sub']];

const panels = [
  { name: 'A', c: 0, l: 0, rows: aRows, frags: aFrags, dots: aDots, dy: .02, bx: .01, by: .01, xt: kticks, yt: kticks, cb: [0, .01, .02, .03], cmap: parula, xl: kx, yl: ['Uncorrected K', ['trans', 'sup'], ' (min', ['-1', 'sup'], ')'], ylx: 45 },
  { name: 'C', c: 1, l: 0, rows: cRows, frags: cFrags, dots: cDots, dy: .02, bx: .01, by: .01, xt: veticks, yt: veticks, cb: [0, .005, .01, .015, .02], cmap: parula, xl: vex, yl: ['Uncorrected v', ['e', 'sub']], ylx: 367 },
  { name: 'E', c: 2, l: 0, rows: eRows, frags: eFrags, dots: eDots, dy: .004, bx: .002, by: .002, xt: vpticks, yt: vpticks, cb: [0, .005, .01, .015, .02], cmap: parula, xl: vpx, yl: ['Uncorrected v', ['p', 'sub']], ylx: 685 },
  { name: 'B', c: 0, l: 1, rows: bRows, frags: bFrags, dots: bDots, dy: .02, bx: .01, by: .01, xt: kticks, yt: [-.8, -.6, -.4, -.2, 0, .2], cb: [0, .01, .02, .03], cmap: plasma, xl: kx, yl: ['Uncorrected K', ['trans', 'sup'], ' error (min', ['-1', 'sup'], ')'], ylx: 42 },
  { name: 'D', c: 1, l: 1, rows: dRows, frags: dFrags, dots: dDots, dy: .01, bx: .01, by: .005, xt: veticks, yt: [-.2, -.1, 0, .1, .2], cb: [0, .004, .008, .012], cmap: plasma, xl: vex, yl: ['Uncorrected v', ['e', 'sub'], ' error'], ylx: 363 },
  { name: 'F', c: 2, l: 1, rows: fRows, frags: fFrags, dots: fDots, dy: .002, bx: .002, by: .002, xt: vpticks, yt: [-.05, -.025, 0, .025, .05], cb: [0, .005, .01, .015], cmap: plasma, xl: vpx, yl: ['Uncorrected v', ['p', 'sub'], ' error'], ylx: 681 },
  { name: 'G', c: 0, l: 2, rows: gRows, frags: gFrags, dots: gDots, dy: .02, bx: .01, by: .01, xt: kticks, yt: kticks, cb: [0, .005, .01, .015, .02, .025], cmap: parula, xl: kx, yl: ['Uncorrected K', ['trans', 'sup'], ' (min', ['-1', 'sup'], ')'], ylx: 45 },
  { name: 'I', c: 1, l: 2, rows: iRows, frags: iFrags, dots: iDots, dy: .02, bx: .01, by: .01, xt: kticks, yt: kticks, cb: [0, .002, .004, .006, .008, .01], cmap: parula, xl: vex, yl: ['Uncorrected v', ['e', 'sub']], ylx: 367 },
  { name: 'K', c: 2, l: 2, rows: kRows, frags: kFrags, dots: kDots, dy: .004, bx: .002, by: .002, xt: vpticks, yt: vpticks, cb: [0, .005, .01, .015, .02], cmap: parula, xl: vpx, yl: ['Uncorrected v', ['p', 'sub']], ylx: 685 },
  { name: 'H', c: 0, l: 3, rows: hRows, frags: hFrags, dots: hDots, dy: .02, bx: .01, by: .01, xt: kticks, yt: [-.6, -.4, -.2, 0, .2], cb: [0, .005, .01, .015, .02, .025], cmap: plasma, xl: kx, yl: ['Uncorrected K', ['trans', 'sup'], ' error (min', ['-1', 'sup'], ')'], ylx: 42 },
  { name: 'J', c: 1, l: 3, rows: jRows, frags: jFrags, dots: jDots, dy: .02, bx: .01, by: .01, xt: kticks, yt: [-.6, -.4, -.2, 0, .2], cb: [0, .002, .004, .006, .008, .01], cmap: plasma, xl: vex, yl: ['Uncorrected v', ['e', 'sub'], ' error'], ylx: 362 },
  { name: 'L', c: 2, l: 3, rows: lRows, frags: lFrags, dots: lDots, dy: .004, bx: .002, by: .002, xt: vpticks, yt: [-.1, -.05, 0, .05, .1], cb: [0, .005, .01, .015], cmap: plasma, xl: vpx, yl: ['Uncorrected v', ['p', 'sub'], ' error'], ylx: 685 }
];
const letterX = { A: 20, B: 21, C: 350, D: 350, E: 671, F: 671, G: 20, H: 21, I: 359, J: 354, K: 668, L: 671 };

const ink = '#444';
const svg = d3.select('#drawing_region');

// journal frame
svg.append('rect').attr('x', 5).attr('y', 7).attr('width', 1211).attr('height', 2.5).attr('fill', '#fdd27a');
svg.append('rect').attr('x', 5).attr('y', 7).attr('width', 2.5).attr('height', 1173).attr('fill', '#fdd27a');

function label(parent, parts) {
  parts.forEach((p, i) => {
    const t = parent.append('tspan');
    const prev = parts[i - 1];
    if (typeof p === 'string') {
      t.attr('dy', prev ? (prev[1] === 'sup' ? 5 : -4) : 0).text(p);
    } else {
      t.attr('dy', p[1] === 'sup' ? -5 : 4).attr('font-size', 11).text(p[0]);
    }
  });
}

function drawPanel(p) {
  const col = columns[p.c];
  const line = lines[p.l];
  const xscale = d3.scaleLinear().domain([p.xt[0], p.xt[p.xt.length - 1]]).range([col.left, col.right]);
  const yscale = d3.scaleLinear().domain([p.yt[0], p.yt[p.yt.length - 1]]).range([line.bottom, line.top]);
  const vmax = p.cb[p.cb.length - 1];
  const colour = v => p.cmap(Math.min(v / vmax, 1));
  const low = colour(vmax * 0.03);
  const g = svg.append('g');

  // grid
  g.append('g').selectAll('line').data(p.xt.slice(1, -1)).join('line')
    .attr('x1', d => xscale(d)).attr('x2', d => xscale(d))
    .attr('y1', line.top).attr('y2', line.bottom)
    .attr('stroke', '#dcdcdc').attr('stroke-width', 1.2);
  g.append('g').selectAll('line').data(p.yt.slice(1, -1)).join('line')
    .attr('y1', d => yscale(d)).attr('y2', d => yscale(d))
    .attr('x1', col.left).attr('x2', col.right)
    .attr('stroke', '#dcdcdc').attr('stroke-width', 1.2);

  const cells = g.append('g').attr('shape-rendering', 'crispEdges');

  // thin low count runs go under the dense rows
  cells.append('g').selectAll('rect').data(p.frags).join('rect')
    .attr('x', d => xscale(d[1]))
    .attr('width', d => xscale(d[2]) - xscale(d[1]))
    .attr('y', d => yscale(d[0] + p.by / 2))
    .attr('height', yscale(0) - yscale(p.by))
    .attr('fill', low);

  // histogram runs
  cells.append('g').selectAll('rect').data(p.rows).join('rect')
    .attr('x', d => xscale(d[1]))
    .attr('width', d => xscale(d[2]) - xscale(d[1]))
    .attr('y', d => yscale(d[0] + p.dy / 2))
    .attr('height', d => yscale(d[0] - p.dy / 2) - yscale(d[0] + p.dy / 2))
    .attr('fill', d => colour(d[3]));

  // single cells
  cells.append('g').selectAll('rect').data(p.dots).join('rect')
    .attr('x', d => xscale(d[0] - p.bx / 2))
    .attr('width', xscale(p.bx) - xscale(0))
    .attr('y', d => yscale(d[1] + p.by / 2))
    .attr('height', yscale(0) - yscale(p.by))
    .attr('fill', low);

  // reference line
  const xdomain = xscale.domain();
  const ref = p.l % 2 === 0
    ? [[xdomain[0], xdomain[0]], [xdomain[1], xdomain[1]]]
    : [[xdomain[0], 0], [xdomain[1], 0]];
  g.append('path')
    .attr('d', d3.line().x(d => xscale(d[0])).y(d => yscale(d[1]))(ref))
    .attr('fill', 'none').attr('stroke', '#000').attr('stroke-opacity', 0.5)
    .attr('stroke-width', 1.1).attr('stroke-dasharray', '6,3');

  // axes
  const bottom = g.append('g').attr('transform', `translate(0, ${line.bottom})`)
    .call(d3.axisBottom(xscale).tickValues(p.xt).tickFormat(String).tickSize(-2.5).tickPadding(7));
  const left = g.append('g').attr('transform', `translate(${col.left}, 0)`)
    .call(d3.axisLeft(yscale).tickValues(p.yt).tickFormat(String).tickSize(-2.5).tickPadding(6));
  const top = g.append('g').attr('transform', `translate(0, ${line.top})`)
    .call(d3.axisTop(xscale).tickValues(p.xt).tickFormat('').tickSize(-2.5));
  const right = g.append('g').attr('transform', `translate(${col.right}, 0)`)
    .call(d3.axisRight(yscale).tickValues(p.yt).tickFormat('').tickSize(-2.5));
  [bottom, left, top, right].forEach(a => {
    a.selectAll('path').attr('stroke', '#555').attr('stroke-width', 1.5);
    a.selectAll('line').attr('stroke', '#555').attr('stroke-width', 1);
    a.selectAll('text').attr('fill', ink).attr('font-size', 11.2).attr('font-weight', 'bold')
      .attr('font-family', '"Liberation Sans", sans-serif');
  });

  // colorbar
  const cb_left = col.right + 6;
  const cb_width = 11;
  const cb_scale = d3.scaleLinear().domain([0, vmax]).range([line.bottom, line.top]);
  const steps = d3.range(0, 128).map(i => i / 128);
  const cb = g.append('g');
  cb.selectAll('rect').data(steps).join('rect')
    .attr('x', cb_left).attr('width', cb_width)
    .attr('y', d => cb_scale((d + 1 / 128) * vmax))
    .attr('height', (line.bottom - line.top) / 128 + 0.5)
    .attr('fill', d => p.cmap(d));
  cb.append('rect').attr('x', cb_left).attr('y', line.top).attr('width', cb_width)
    .attr('height', line.bottom - line.top).attr('fill', 'none').attr('stroke', '#999').attr('stroke-width', 0.8);
  g.append('g').attr('transform', `translate(${cb_left + cb_width}, 0)`)
    .call(d3.axisRight(cb_scale).tickValues(p.cb).tickFormat(String).tickSize(0).tickPadding(4))
    .call(a => a.select('.domain').remove())
    .selectAll('text').attr('fill', ink).attr('font-size', 11).attr('font-weight', 'bold')
    .attr('font-family', '"Liberation Sans", sans-serif');

  // labels
  const cx = (col.left + col.right) / 2;
  const cy = (line.top + line.bottom) / 2;
  const xlabel = g.append('text').attr('x', cx).attr('text-anchor', 'middle')
    .attr('y', line.bottom + (p.c === 0 ? 36 : 32))
    .attr('fill', ink).attr('font-size', 13.2).attr('font-weight', 'bold');
  label(xlabel, p.xl);
  const ylabel = g.append('text').attr('text-anchor', 'middle')
    .attr('transform', `translate(${p.ylx}, ${cy}) rotate(-90)`)
    .attr('fill', ink).attr('font-size', 13.2).attr('font-weight', 'bold');
  label(ylabel, p.yl);

  g.append('text').attr('x', letterX[p.name]).attr('y', line.letterY)
    .attr('fill', '#000').attr('font-size', 26).attr('font-weight', 'bold').text(p.name);
}

panels.forEach(drawPanel);

// cell line titles
svg.selectAll('.title').data([['TOV-21G', 38], ['TRAMP', 622]]).join('text')
  .attr('class', 'title').attr('x', 480).attr('y', d => d[1]).attr('text-anchor', 'middle')
  .attr('fill', '#1a1a1a').attr('font-size', 20.5).attr('font-weight', 'bold').text(d => d[0]);

// caption box, the lines run up to the page edge as in the source
svg.append('rect').attr('x', 1019).attr('y', 325).attr('width', 197).attr('height', 536).attr('fill', '#9bc93a');
const caption = ['corrected versus', 'DCE-MRI param', 'histograms of vo', 'rected versus R2', 'parameter value', '21G ovarian tu', '(A, C, E). Corre', 'grams of the un', 'ter errors versus', 'values (B, D, F).', 'voxel-wise histo', 'TRAMP mouse p', 'Histograms are', 'normalized freq'];
const text_box = svg.append('g').attr('fill', '#fff').attr('font-size', 21)
  .attr('font-family', 'Lato, sans-serif').attr('font-weight', 300);
text_box.selectAll('.line').data(caption).join('text')
  .attr('class', 'line')
  .attr('x', 1054)
  .attr('y', (d, i) => 407 + i * 32)
  .text(d => d);
text_box.append('text').attr('x', 1054).attr('y', 376)
  .attr('font-weight', 'bold').attr('font-size', 25).text('Figure 4.');
text_box.append('text').attr('x', 1172).attr('y', 376).text('2D h');
</script>
</body>
</html>
